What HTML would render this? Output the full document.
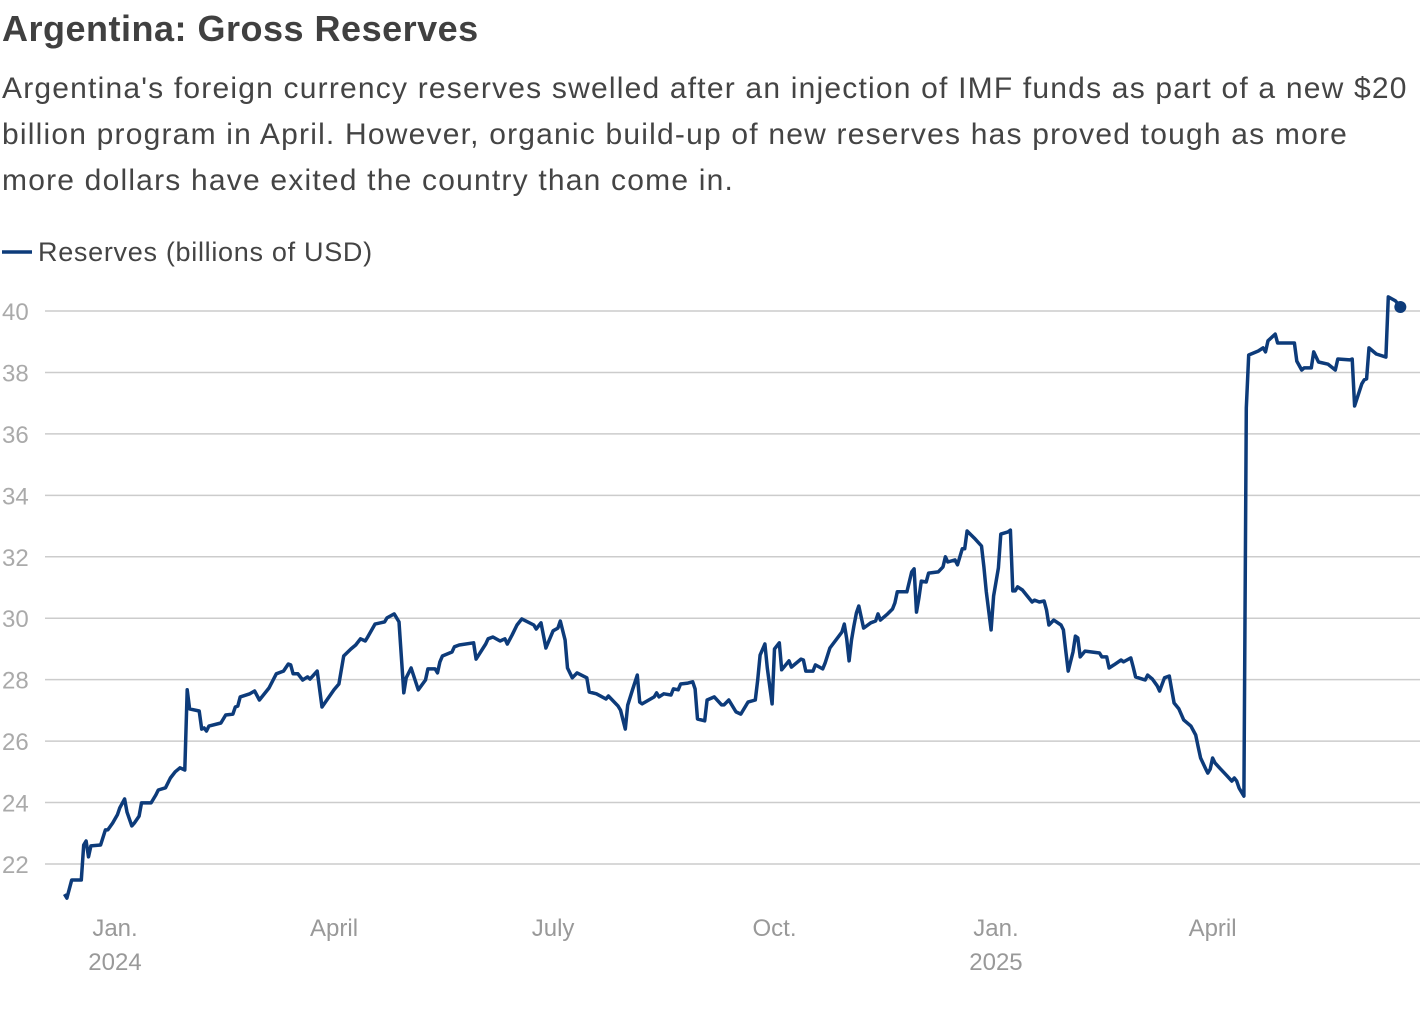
<!DOCTYPE html>
<html><head><meta charset="utf-8">
<style>
body{margin:0;background:#fff;width:1420px;height:1012px;overflow:hidden;font-family:"Liberation Sans",sans-serif}
.t{position:absolute;left:2px;top:8px;font-size:36px;font-weight:bold;color:#404040;letter-spacing:0.5px}
.s{position:absolute;left:2px;top:66px;font-size:30px;line-height:46px;color:#444;white-space:nowrap;letter-spacing:1.2px}
svg{position:absolute;left:0;top:0}
</style></head><body>
<div class="t">Argentina: Gross Reserves</div>
<div class="s">Argentina's foreign currency reserves swelled after an injection of IMF funds as part of a new $20<br>billion program in April. However, organic build-up of new reserves has proved tough as more<br>more dollars have exited the country than come in.</div>
<svg id="c" width="1420" height="1012"></svg>
<script>
// days since 2024-01-01
const dayOffsets=[-21,-20,-18,-14,-13,-12,-11,-10,-6,-4,-3,-1,1,2,4,5,7,8,10,11,15,17,18,21,23,25,27,29,30,31,35,36,37,38,39,44,46,49,50,51,52,56,58,60,64,67,69,70,72,73,74,76,78,80,81,84,86,91,93,95,98,100,102,104,105,108,112,113,116,118,120,121,123,126,129,130,133,134,135,136,140,141,143,149,150,154,155,157,160,162,163,165,167,169,174,175,177,179,182,184,185,187,188,190,192,196,197,200,204,205,209,210,212,213,215,217,218,219,224,225,226,228,231,232,234,235,238,240,241,242,245,246,249,252,253,255,258,260,263,266,267,268,270,271,273,274,276,277,280,281,285,286,287,290,291,294,295,297,302,303,304,305,306,307,308,309,311,314,316,317,318,321,323,324,325,329,331,332,333,334,335,337,338,342,344,345,346,349,350,352,353,354,357,360,361,362,364,365,367,368,371,372,373,374,375,377,381,382,384,386,387,388,390,393,394,395,396,398,399,400,401,403,409,410,412,413,415,418,419,422,423,424,428,429,431,433,434,436,438,439,440,442,444,447,449,450,451,453,454,455,456,457,459,462,464,465,466,467,469,470,471,475,477,478,479,482,483,490,491,493,494,497,498,500,504,507,508,513,514,515,518,519,520,521,524,528,529,532,534];
const reserves=[21.02,20.89,21.48,21.48,22.62,22.75,22.23,22.59,22.62,23.11,23.11,23.33,23.60,23.83,24.12,23.69,23.24,23.33,23.56,23.99,23.99,24.25,24.41,24.48,24.80,25.00,25.13,25.06,27.67,27.05,26.98,26.39,26.43,26.33,26.49,26.59,26.85,26.88,27.11,27.14,27.44,27.54,27.63,27.34,27.73,28.19,28.25,28.28,28.51,28.48,28.19,28.19,27.99,28.09,28.02,28.28,27.11,27.67,27.86,28.77,29.00,29.13,29.33,29.26,29.39,29.81,29.88,30.01,30.14,29.88,27.57,28.06,28.38,27.67,27.99,28.35,28.35,28.22,28.58,28.77,28.90,29.07,29.13,29.20,28.67,29.16,29.33,29.39,29.26,29.33,29.16,29.46,29.78,29.98,29.78,29.65,29.85,29.03,29.59,29.68,29.91,29.29,28.38,28.06,28.22,28.06,27.60,27.54,27.37,27.47,27.14,27.01,26.39,27.17,27.67,28.15,27.27,27.21,27.44,27.57,27.44,27.54,27.50,27.70,27.67,27.86,27.89,27.93,27.70,26.72,26.66,27.34,27.44,27.18,27.18,27.34,26.95,26.88,27.27,27.34,27.99,28.80,29.16,28.38,27.21,29.00,29.20,28.32,28.61,28.41,28.67,28.64,28.28,28.28,28.48,28.35,28.54,29.03,29.55,29.81,29.33,28.61,29.29,29.75,30.17,30.40,29.68,29.85,29.91,30.14,29.94,30.14,30.30,30.50,30.86,30.86,31.51,31.61,30.20,30.66,31.21,31.18,31.47,31.51,31.67,32.00,31.83,31.90,31.74,32.26,32.26,32.84,32.61,32.35,31.67,30.86,29.62,30.72,31.64,32.74,32.81,32.87,30.89,30.89,31.02,30.92,30.53,30.59,30.53,30.56,30.27,29.78,29.94,29.78,29.62,28.93,28.28,28.90,29.42,29.36,28.74,28.93,28.87,28.74,28.74,28.38,28.48,28.64,28.58,28.71,28.41,28.09,27.99,28.15,28.02,27.80,27.63,28.06,28.12,27.67,27.24,27.05,26.69,26.49,26.20,25.81,25.45,25.12,24.96,25.09,25.45,25.29,25.12,24.87,24.70,24.80,24.70,24.47,24.21,36.84,38.57,38.70,38.80,38.67,39.03,39.25,38.96,38.96,38.37,38.08,38.15,38.15,38.67,38.34,38.27,38.08,38.44,38.41,38.44,36.91,37.63,37.76,37.79,38.80,38.60,38.50,40.46,40.33,40.13];
const yTicks=[22,24,26,28,30,32,34,36,38,40];
const xTickDays=[0,91,182,274,366,456];
const xTickLabels=[["Jan.","2024"],["April",""],["July",""],["Oct.",""],["Jan.","2025"],["April",""]];
const NS="http://www.w3.org/2000/svg";
const svg=document.getElementById('c');
const x=d=>115+d*2.407;
const y=v=>864-(v-22)*30.72;
function mk(tag,attrs,parent){const e=document.createElementNS(NS,tag);for(const k in attrs)e.setAttribute(k,attrs[k]);(parent||svg).appendChild(e);return e;}
const grid=mk('g',{});


yTicks.forEach(v=>{
  const l=mk('line',{x1:45,x2:1420,y1:y(v),y2:y(v),stroke:'#cccccc','stroke-width':1.5},grid);
  
  
  const t=mk('text',{x:2,y:y(v)+9,'font-size':24,fill:'#aaaaaa','font-family':'Liberation Sans, sans-serif'},grid);
  
  
  t.textContent=v;
});
xTickDays.forEach((d,i)=>{
  const t=mk('text',{x:x(d),y:936,'font-size':24,fill:'#999999','text-anchor':'middle','font-family':'Liberation Sans, sans-serif'});
  
  
  t.textContent=xTickLabels[i][0];
  if(xTickLabels[i][1]){
    const t2=mk('text',{x:x(d),y:970,'font-size':24,fill:'#999999','text-anchor':'middle','font-family':'Liberation Sans, sans-serif'});
    
    
    t2.textContent=xTickLabels[i][1];
  }
});
const lg=mk('line',{x1:2,x2:32,y1:252,y2:252,stroke:'#0d3b7a','stroke-width':3.5});


const lt=mk('text',{x:38,y:261,'font-size':27,fill:'#444','letter-spacing':0.7,'font-family':'Liberation Sans, sans-serif'});


lt.textContent='Reserves (billions of USD)';
const pts=dayOffsets.map((d,i)=>x(d).toFixed(1)+','+y(reserves[i]).toFixed(1)).join(' ');
const pl=mk('polyline',{points:pts,fill:'none',stroke:'#0d3b7a','stroke-width':3.5,'stroke-linejoin':'round'});


const n=dayOffsets.length-1;
const dot=mk('circle',{cx:x(dayOffsets[n]),cy:y(reserves[n]),r:6,fill:'#0d3b7a'});


</script>
</body></html>
